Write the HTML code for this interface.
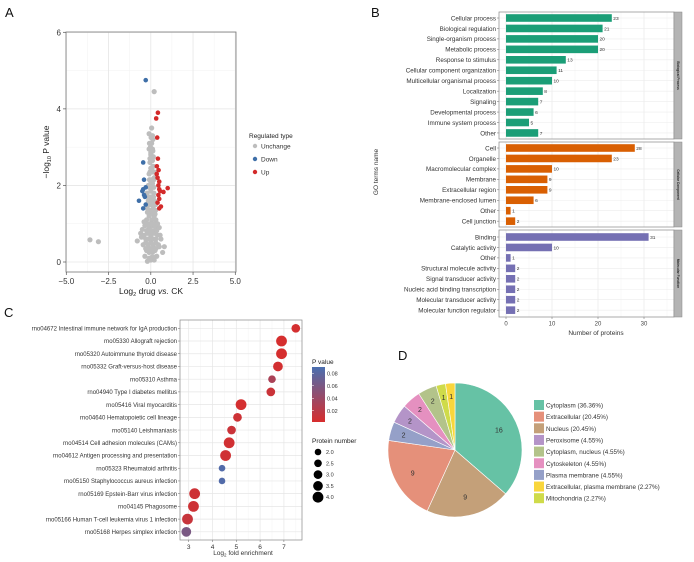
<!DOCTYPE html>
<html><head><meta charset="utf-8"><style>
body{margin:0;background:#fff;}
svg{display:block;font-family:"Liberation Sans",Arial,sans-serif;}
</style></head><body>
<svg id="fig" width="694" height="562" viewBox="0 0 694 562" xmlns="http://www.w3.org/2000/svg"></svg>
<script>
// ---------- Panel A data ----------
const upX=[0.42,0.32,0.38,0.42,0.36,0.46,0.40,0.50,0.45,1.00,0.75,0.50,0.45,0.50,0.40,0.60,0.50,0.35,0.55];
const upY=[3.90,3.75,3.25,2.70,2.50,2.40,2.20,2.10,2.00,1.93,1.83,1.90,1.75,1.65,1.55,1.45,1.40,2.30,1.85];
const downX=[-0.30,-0.45,-0.40,-0.30,-0.45,-0.50,-0.70,-0.40,-0.35,-0.45,-0.30];
const downY=[4.75,2.60,2.15,1.95,1.90,1.85,1.60,1.75,1.70,1.40,1.50];
const greyX=[-3.6,-3.1,0.2,0.05,-0.1,0.1,-0.1,-0.8,-0.6,0.6,0.8,0.7,0.5,
 -0.2,0,0.2,0.35,-0.35,-0.1,0.1,0.25,-0.25,
 -0.45,-0.3,-0.15,0,0.15,0.3,0.45,-0.4,-0.2,0,0.2,0.4,-0.35,-0.1,0.1,0.3,
 -0.25,-0.1,0.05,0.2,0.3,-0.2,0,0.15,0.28,-0.15,0.05,0.22,-0.22,0,0.18,
 -0.15,0,0.1,0.2,-0.1,0.05,0.15,-0.05,0.1,0.0,0.12,-0.02,
 -0.1,0.05,0.2,-0.3,-0.15,0,0.15,0.3,-0.3,-0.15,0,0.15,0.3,-0.25,-0.1,0.05,0.2,0.35,
 -0.2,-0.05,0.1,0.25,-0.2,-0.05,0.1,0.25,-0.15,0,0.15,0.28,-0.12,0.02,0.16,-0.1,0.05,0.18,
 -0.08,0.06,0.18,-0.05,0.08,0.2,0,0.12,-0.05,0.08,0.15,0.0,0.1,-0.08,0.05,0.12,0.02,
 -0.5,0.5,-0.55,0.55,0.4,-0.4];
const greyY=[0.58,0.53,4.45,3.5,3.35,3.3,2.95,0.55,0.75,0.6,0.4,0.25,0.4,
 0.02,0.05,0.05,0.15,0.15,0.25,0.25,0.3,0.3,
 0.45,0.5,0.45,0.5,0.45,0.5,0.45,0.7,0.75,0.7,0.75,0.7,0.95,0.9,0.95,0.9,
 1.1,1.2,1.1,1.2,1.1,1.4,1.35,1.4,1.35,1.6,1.6,1.6,1.8,1.85,1.8,
 2.0,2.1,2.05,2.2,2.3,2.4,2.5,2.6,2.65,2.8,2.9,3.0,
 0.1,0.12,0.12,0.35,0.35,0.35,0.35,0.35,0.6,0.6,0.6,0.6,0.6,0.82,0.82,0.82,0.82,0.82,
 1.0,1.0,1.0,1.0,1.3,1.25,1.3,1.25,1.5,1.5,1.5,1.5,1.7,1.7,1.7,1.95,1.95,1.95,
 2.15,2.15,2.15,2.35,2.35,2.35,2.45,2.5,2.7,2.7,2.75,2.85,2.95,3.1,3.1,3.2,3.25,
 0.85,0.9,0.65,0.7,1.0,1.05];
const aXTicks=[-5,-2.5,0,2.5,5];
const aXTickLabels=["\u22125.0","\u22122.5","0.0","2.5","5.0"];
const aYTicks=[0,2,4,6];

// ---------- Panel B data ----------
const bpTerms=["Cellular process","Biological regulation","Single-organism process","Metabolic process","Response to stimulus","Cellular component organization","Multicellular organismal process","Localization","Signaling","Developmental process","Immune system process","Other"];
const bpCounts=[23,21,20,20,13,11,10,8,7,6,5,7];
const ccTerms=["Cell","Organelle","Macromolecular complex","Membrane","Extracellular region","Membrane-enclosed lumen","Other","Cell junction"];
const ccCounts=[28,23,10,9,9,6,1,2];
const mfTerms=["Binding","Catalytic activity","Other","Structural molecule activity","Signal transducer activity","Nucleic acid binding transcription","Molecular transducer activity","Molecular function regulator"];
const mfCounts=[31,10,1,2,2,2,2,2];
const bXTicks=[0,10,20,30];

// ---------- Panel C data ----------
const cTerms=["rno04672 Intestinal immune network for IgA production","rno05330 Allograft rejection","rno05320 Autoimmune thyroid disease","rno05332 Graft-versus-host disease","rno05310 Asthma","rno04940 Type I diabetes mellitus","rno05416 Viral myocarditis","rno04640 Hematopoietic cell lineage","rno05140 Leishmaniasis","rno04514 Cell adhesion molecules (CAMs)","rno04612 Antigen processing and presentation","rno05323 Rheumatoid arthritis","rno05150 Staphylococcus aureus infection","rno05169 Epstein-Barr virus infection","rno04145 Phagosome","rno05166 Human T-cell leukemia virus 1 infection","rno05168 Herpes simplex infection"];
const cFold=[7.5,6.9,6.9,6.75,6.5,6.45,5.2,5.05,4.8,4.7,4.55,4.4,4.4,3.25,3.2,2.95,2.9];
const cPval=[0.004,0.003,0.003,0.005,0.03,0.01,0.004,0.008,0.01,0.006,0.007,0.085,0.085,0.008,0.008,0.012,0.06];
const cCount=[3,4,4,3.5,2.5,3,4,3,3,4,4,2,2,4,4,4,3.5];
const cXTicks=[3,4,5,6,7];
const cPTicks=[0.02,0.04,0.06,0.08];
const cSizeTicks=[2.0,2.5,3.0,3.5,4.0];

// ---------- Panel D data ----------
const dNames=["Cytoplasm","Nucleus","Extracellular","Plasma membrane","Peroxisome","Cytoskeleton","Cytoplasm, nucleus","Mitochondria","Extracellular, plasma membrane"];
const dValues=[16,9,9,2,2,2,2,1,1];
const dLegend=["Cytoplasm (36.36%)","Extracellular (20.45%)","Nucleus (20.45%)","Peroxisome (4.55%)","Cytoplasm, nucleus (4.55%)","Cytoskeleton (4.55%)","Plasma membrane (4.55%)","Extracellular, plasma membrane (2.27%)","Mitochondria (2.27%)"];

const NS="http://www.w3.org/2000/svg";
const svg=document.getElementById('fig');
function el(tag,attrs,parent,text){const e=document.createElementNS(NS,tag);for(const k in attrs)e.setAttribute(k,attrs[k]);if(text!==undefined)e.textContent=text;(parent||svg).appendChild(e);return e;}
function grp(name){const g=el('g',{});


return g;}

[["A",5,17],["B",371,17],["C",4,317],["D",398,360]].forEach(([t,x,y])=>{
 const e=el('text',{x:x,y:y,'font-size':13,fill:'#111'},svg,t);
 
 
});

// ===== Panel A =====
(function(){
 const g=grp('volcano-plot');
 const L=66,R=236,T=32,B=272;
 const xs=v=>L+(v+5)/10*(235.3-66.3)+0.3;
 const ys=v=>262-v*(262-32.3)/6;
 el('rect',{x:L,y:T,width:R-L,height:B-T,fill:'#fff',stroke:'none'},g);
 [-3.75,-1.25,1.25,3.75].forEach(v=>el('line',{x1:xs(v),x2:xs(v),y1:T,y2:B,stroke:'#f2f2f2','stroke-width':0.5},g));
 [1,3,5].forEach(v=>el('line',{x1:L,x2:R,y1:ys(v),y2:ys(v),stroke:'#f2f2f2','stroke-width':0.5},g));
 aXTicks.forEach(v=>el('line',{x1:xs(v),x2:xs(v),y1:T,y2:B,stroke:'#e6e6e6','stroke-width':0.8},g));
 aYTicks.forEach(v=>el('line',{x1:L,x2:R,y1:ys(v),y2:ys(v),stroke:'#e6e6e6','stroke-width':0.8},g));
 for(let i=0;i<greyX.length;i++){const c=el('circle',{cx:xs(greyX[i]),cy:ys(greyY[i]),r:2.6,fill:'#bdbdbd'},g);
  
  }
 for(let i=0;i<downX.length;i++){const c=el('circle',{cx:xs(downX[i]),cy:ys(downY[i]),r:2.3,fill:'#3f6fa8'},g);
  
  }
 for(let i=0;i<upX.length;i++){const c=el('circle',{cx:xs(upX[i]),cy:ys(upY[i]),r:2.3,fill:'#d32a2a'},g);
  
  }
 el('rect',{x:L,y:T,width:R-L,height:B-T,fill:'none',stroke:'#777','stroke-width':0.8},g);
 aXTicks.forEach((v,i)=>{el('line',{x1:xs(v),x2:xs(v),y1:B,y2:B+3,stroke:'#555','stroke-width':0.7},g);
  el('text',{x:xs(v),y:B+12,'font-size':8,'text-anchor':'middle',fill:'#333'},g,aXTickLabels[i]);});
 aYTicks.forEach(v=>{el('line',{x1:L-3,x2:L,y1:ys(v),y2:ys(v),stroke:'#555','stroke-width':0.7},g);
  el('text',{x:L-5,y:ys(v)+3,'font-size':8,'text-anchor':'end',fill:'#333'},g,String(v));});
 const xt=el('text',{x:151,y:294,'font-size':8.5,'text-anchor':'middle',fill:'#222'},g);
 xt.innerHTML='Log<tspan font-size="5.5" dy="2">2</tspan><tspan dy="-2"> drug </tspan><tspan font-style="italic">vs.</tspan> CK';
 
 
 const yt=el('text',{x:0,y:0,'font-size':8.5,'text-anchor':'middle',fill:'#222',transform:'translate(49,152) rotate(-90)'},g);
 yt.innerHTML='\u2212log<tspan font-size="5.5" dy="2">10</tspan><tspan dy="-2"> P value</tspan>';
 
 
 const lg=grp('legend-regulated-type');
 el('text',{x:249,y:138,'font-size':6.5,fill:'#222'},lg,'Regulated type');
 [["Unchange","#bdbdbd"],["Down","#3f6fa8"],["Up","#d32a2a"]].forEach(([t,c],i)=>{
  el('circle',{cx:255,cy:146+i*13,r:2.2,fill:c},lg);
  el('text',{x:261,y:148.5+i*13,'font-size':6.5,fill:'#333'},lg,t);});
})();

// ===== Panel B =====
(function(){
 const g=grp('go-bar-chart');
 const L=499,R=674,x0=506,k=4.6;
 const xs=v=>x0+v*k;
 const facets=[
  {terms:bpTerms,counts:bpCounts,top:12,bot:139,first:18,step:10.45,color:'#1b9e77',strip:'Biological Process'},
  {terms:ccTerms,counts:ccCounts,top:142,bot:227,first:148,step:10.45,color:'#d95f02',strip:'Cellular Component'},
  {terms:mfTerms,counts:mfCounts,top:230,bot:317,first:237,step:10.45,color:'#7570b3',strip:'Molecular Function'}];
 facets.forEach((f,fi)=>{
  const fg=grp('facet-'+f.strip.toLowerCase().replace(/ /g,'-'));
  g.appendChild(fg);
  el('rect',{x:L,y:f.top,width:R-L,height:f.bot-f.top,fill:'#fff'},fg);
  [5,15,25,35].forEach(v=>el('line',{x1:xs(v),x2:xs(v),y1:f.top,y2:f.bot,stroke:'#f3f3f3','stroke-width':0.5},fg));
  bXTicks.forEach(v=>el('line',{x1:xs(v),x2:xs(v),y1:f.top,y2:f.bot,stroke:'#e8e8e8','stroke-width':0.7},fg));
  f.terms.forEach((t,i)=>{
   const y=f.first+i*f.step;
   el('line',{x1:L,x2:R,y1:y,y2:y,stroke:'#ececec','stroke-width':0.6},fg);
   const b=el('rect',{x:x0,y:y-3.8,width:f.counts[i]*k,height:7.6,fill:f.color},fg);
   
   
   el('text',{x:x0+f.counts[i]*k+1.5,y:y+1.8,'font-size':4.8,fill:'#333'},fg,String(f.counts[i]));
   el('line',{x1:L-2,x2:L,y1:y,y2:y,stroke:'#666','stroke-width':0.5},fg);
   el('text',{x:L-3,y:y+2.3,'font-size':6.3,'text-anchor':'end',fill:'#333'},fg,t);
  });
  el('rect',{x:L,y:f.top,width:R-L,height:f.bot-f.top,fill:'none',stroke:'#888','stroke-width':0.7},fg);
  el('rect',{x:R,y:f.top,width:8,height:f.bot-f.top,fill:'#b4b4b4',stroke:'#888','stroke-width':0.5},fg);
  const cy=(f.top+f.bot)/2;
  el('text',{x:0,y:0,'font-size':3.2,'font-weight':'bold','text-anchor':'middle',fill:'#222',transform:`translate(${R+3},${cy}) rotate(90)`},fg,f.strip);
 });
 bXTicks.forEach(v=>{el('line',{x1:xs(v),x2:xs(v),y1:317,y2:319,stroke:'#666','stroke-width':0.5},g);
  el('text',{x:xs(v),y:325.5,'font-size':6,'text-anchor':'middle',fill:'#444'},g,String(v));});
 el('text',{x:596,y:335,'font-size':6.5,'text-anchor':'middle',fill:'#333'},g,'Number of proteins');
 el('text',{x:0,y:0,'font-size':6.5,'text-anchor':'middle',fill:'#333',transform:'translate(378,172) rotate(-90)'},g,'GO terms name');
})();

// ===== Panel C =====
(function(){
 const g=grp('kegg-bubble-chart');
 const L=180,R=302,T=320,B=540;
 const xs=v=>188.7+(v-3)*23.8;
 const ys=i=>328.3+i*12.72;
 const rs=n=>3.3+(n-2)*1.05;
 function col(p){const t=Math.min(1,Math.max(0,(p-0.002)/0.088));
  const a=[215,45,45],b=[74,111,176];
  return `rgb(${a.map((v,i)=>Math.round(v+(b[i]-v)*t)).join(',')})`;}
 el('rect',{x:L,y:T,width:R-L,height:B-T,fill:'#fff'},g);
 [3.5,4.5,5.5,6.5,7.5].forEach(v=>el('line',{x1:xs(v),x2:xs(v),y1:T,y2:B,stroke:'#f3f3f3','stroke-width':0.5},g));
 cXTicks.forEach(v=>el('line',{x1:xs(v),x2:xs(v),y1:T,y2:B,stroke:'#e6e6e6','stroke-width':0.7},g));
 cTerms.forEach((t,i)=>{
  el('line',{x1:L,x2:R,y1:ys(i),y2:ys(i),stroke:'#e6e6e6','stroke-width':0.7},g);
  el('line',{x1:L-2,x2:L,y1:ys(i),y2:ys(i),stroke:'#666','stroke-width':0.5},g);
  el('text',{x:L-3,y:ys(i)+2.2,'font-size':6,'text-anchor':'end',fill:'#333'},g,t);
 });
 cTerms.forEach((t,i)=>{
  const c=el('circle',{cx:xs(cFold[i]),cy:ys(i),r:rs(cCount[i]),fill:col(cPval[i])},g);
  
  
 });
 el('rect',{x:L,y:T,width:R-L,height:B-T,fill:'none',stroke:'#888','stroke-width':0.7},g);
 cXTicks.forEach(v=>{el('line',{x1:xs(v),x2:xs(v),y1:B,y2:B+2,stroke:'#666','stroke-width':0.5},g);
  el('text',{x:xs(v),y:B+9,'font-size':6.5,'text-anchor':'middle',fill:'#333'},g,String(v));});
 const xt=el('text',{x:243,y:555,'font-size':6.5,'text-anchor':'middle',fill:'#333'},g);
 xt.innerHTML='Log<tspan font-size="4.5" dy="1.5">2</tspan><tspan dy="-1.5"> fold enrichment</tspan>';
 const lg=grp('legend-p-value');
 el('text',{x:312,y:364,'font-size':6.5,fill:'#222'},lg,'P value');
 const defs=el('defs',{},lg);
 const gr=el('linearGradient',{id:'pg',x1:0,y1:1,x2:0,y2:0},defs);
 el('stop',{offset:'0','stop-color':col(0.002)},gr);
 el('stop',{offset:'0.5','stop-color':col(0.046)},gr);
 el('stop',{offset:'1','stop-color':col(0.09)},gr);
 const cbT=367,cbB=422;const py=p=>cbB-(p-0.002)/0.088*(cbB-cbT);
 el('rect',{x:312,y:cbT,width:13,height:cbB-cbT,fill:'url(#pg)'},lg);
 cPTicks.forEach(p=>{el('line',{x1:312,x2:314,y1:py(p),y2:py(p),stroke:'#fff','stroke-width':0.5},lg);
  el('text',{x:327,y:py(p)+2,'font-size':5.5,fill:'#333'},lg,p.toFixed(2));});
 const sg=grp('legend-protein-number');
 el('text',{x:312,y:443,'font-size':6.5,fill:'#222'},sg,'Protein number');
 cSizeTicks.forEach((n,i)=>{el('circle',{cx:318,cy:452+i*11.3,r:rs(n),fill:'#000'},sg);
  el('text',{x:326,y:454+i*11.3,'font-size':5.5,fill:'#333'},sg,n.toFixed(1));});
})();

// ===== Panel D =====
(function(){
 const g=grp('pie-chart');
 const colors={"Cytoplasm":"#66c2a5","Extracellular":"#e5907a","Nucleus":"#c4a079","Peroxisome":"#b494c8","Cytoplasm, nucleus":"#b3c38a","Cytoskeleton":"#e590c0","Plasma membrane":"#95a0c8","Extracellular, plasma membrane":"#f9d63c","Mitochondria":"#cfdb4a"};
 const cx=455,cy=450,r=67;
 const total=dValues.reduce((a,b)=>a+b,0);
 let a0=0;
 dNames.forEach((n,i)=>{
  const a1=a0+dValues[i]/total*2*Math.PI;
  const p=a=>[cx+r*Math.sin(a),cy-r*Math.cos(a)];
  const [x0,y0]=p(a0),[x1,y1]=p(a1);
  const s=el('path',{d:`M${cx},${cy}L${x0},${y0}A${r},${r} 0 ${a1-a0>Math.PI?1:0} 1 ${x1},${y1}Z`,fill:colors[n],stroke:'#fff','stroke-width':0.6},g);
  
  
  const am=(a0+a1)/2, lr=dValues[i]>5?r*0.72:r*0.8;
  el('text',{x:cx+lr*Math.sin(am),y:cy-lr*Math.cos(am)+2.5,'font-size':7,'text-anchor':'middle',fill:'#333'},g,String(dValues[i]));
  a0=a1;
 });
 const lg=grp('pie-legend');
 const order=["Cytoplasm","Extracellular","Nucleus","Peroxisome","Cytoplasm, nucleus","Cytoskeleton","Plasma membrane","Extracellular, plasma membrane","Mitochondria"];
 dLegend.forEach((t,i)=>{const y=400+i*11.65;
  el('rect',{x:534,y:y,width:10,height:10,fill:colors[order[i]]},lg);
  el('text',{x:546,y:y+7.5,'font-size':6.3,fill:'#333'},lg,t);});
})();
</script>
</body></html>
